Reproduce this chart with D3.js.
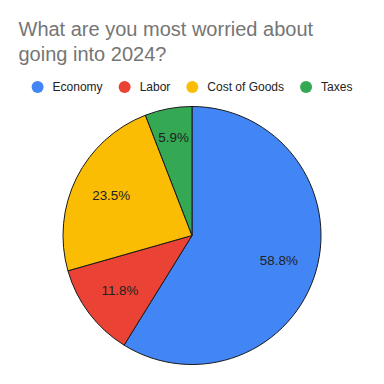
<!DOCTYPE html>
<html>
<head>
<meta charset="utf-8">
<script src="https://cdn.jsdelivr.net/npm/d3@7"></script>
<style>
  html, body { margin: 0; padding: 0; background: #fff; }
  svg { display: block; font-family: "Liberation Sans", Arial, sans-serif; }
</style>
</head>
<body>
<script>
const titleLines = ["What are you most worried about", "going into 2024?"];
const categories = ["Economy", "Labor", "Cost of Goods", "Taxes"];
const values = [10, 2, 4, 1];
const colors = ["#4285F4", "#EA4335", "#FBBC04", "#34A853"];

const W = 384, H = 384;
const cx = 192, cy = 235.5, R = 129;

const svg = d3.select("body").append("svg").attr("width", W).attr("height", H);
svg.append("rect").attr("width", W).attr("height", H).attr("fill", "#fff");

// Title
svg.append("g").selectAll("text").data(titleLines).join("text")
  .attr("x", 18.5)
  .attr("y", (d, i) => 36 + i * 25)
  .attr("font-size", 20)
  .attr("fill", "#757575")
  .text(d => d);

// Legend
const legend = svg.append("g");
const items = legend.selectAll("g").data(categories).join("g");
items.append("circle").attr("r", 6).attr("cx", 0).attr("cy", 0).attr("fill", (d, i) => colors[i]);
items.append("text").attr("x", 15).attr("y", 0).attr("dy", "0.35em")
  .attr("font-size", 12).attr("fill", "#222").text(d => d);
let xpos = 0;
const positions = [];
items.each(function (d, i) {
  const w = d3.select(this).select("text").node().getComputedTextLength();
  positions.push(xpos);
  xpos += 15 + w + 22;
});
const totalW = xpos - 22 + 6;
const legendStart = W / 2 - totalW / 2 + 6;
items.attr("transform", (d, i) => `translate(${legendStart + positions[i]},87)`);

// Pie
const pie = d3.pie().sort(null).value(d => d);
const arcs = pie(values);
const arc = d3.arc().innerRadius(0).outerRadius(R);
const total = d3.sum(values);
const g = svg.append("g").attr("transform", `translate(${cx},${cy})`);
g.selectAll("path").data(arcs).join("path")
  .attr("d", arc)
  .attr("fill", (d, i) => colors[i])
  .attr("stroke", "#1a1a1a")
  .attr("stroke-width", 1)
  .attr("stroke-linejoin", "round");

const fmt = d => (d / total * 100).toFixed(1) + "%";
const fs = 13.4;
const labels = g.selectAll("text.lbl").data(arcs).join("text")
  .attr("class", "lbl")
  .attr("font-size", fs)
  .attr("fill", "#222")
  .attr("text-anchor", "middle")
  .attr("dy", "0.35em")
  .text(d => fmt(d.value));

function inside(px, py, a0, a1) {
  let a = Math.atan2(px, -py);
  if (a < 0) a += 2 * Math.PI;
  return a >= a0 && a <= a1 && Math.hypot(px, py) <= R;
}
labels.each(function (d) {
  const w = this.getComputedTextLength() + 4;
  const h = fs * 0.75 + 2.5;
  const mid = (d.startAngle + d.endAngle) / 2;
  let rho = 0.7 * R;
  for (; rho < R; rho += 0.5) {
    const x = Math.sin(mid) * rho, y = -Math.cos(mid) * rho;
    const corners = [[x - w / 2, y - h / 2], [x + w / 2, y - h / 2], [x - w / 2, y + h / 2], [x + w / 2, y + h / 2]];
    if (corners.every(c => inside(c[0], c[1], d.startAngle, d.endAngle))) break;
  }
  d3.select(this)
    .attr("x", Math.sin(mid) * rho)
    .attr("y", -Math.cos(mid) * rho);
});
</script>
</body>
</html>
